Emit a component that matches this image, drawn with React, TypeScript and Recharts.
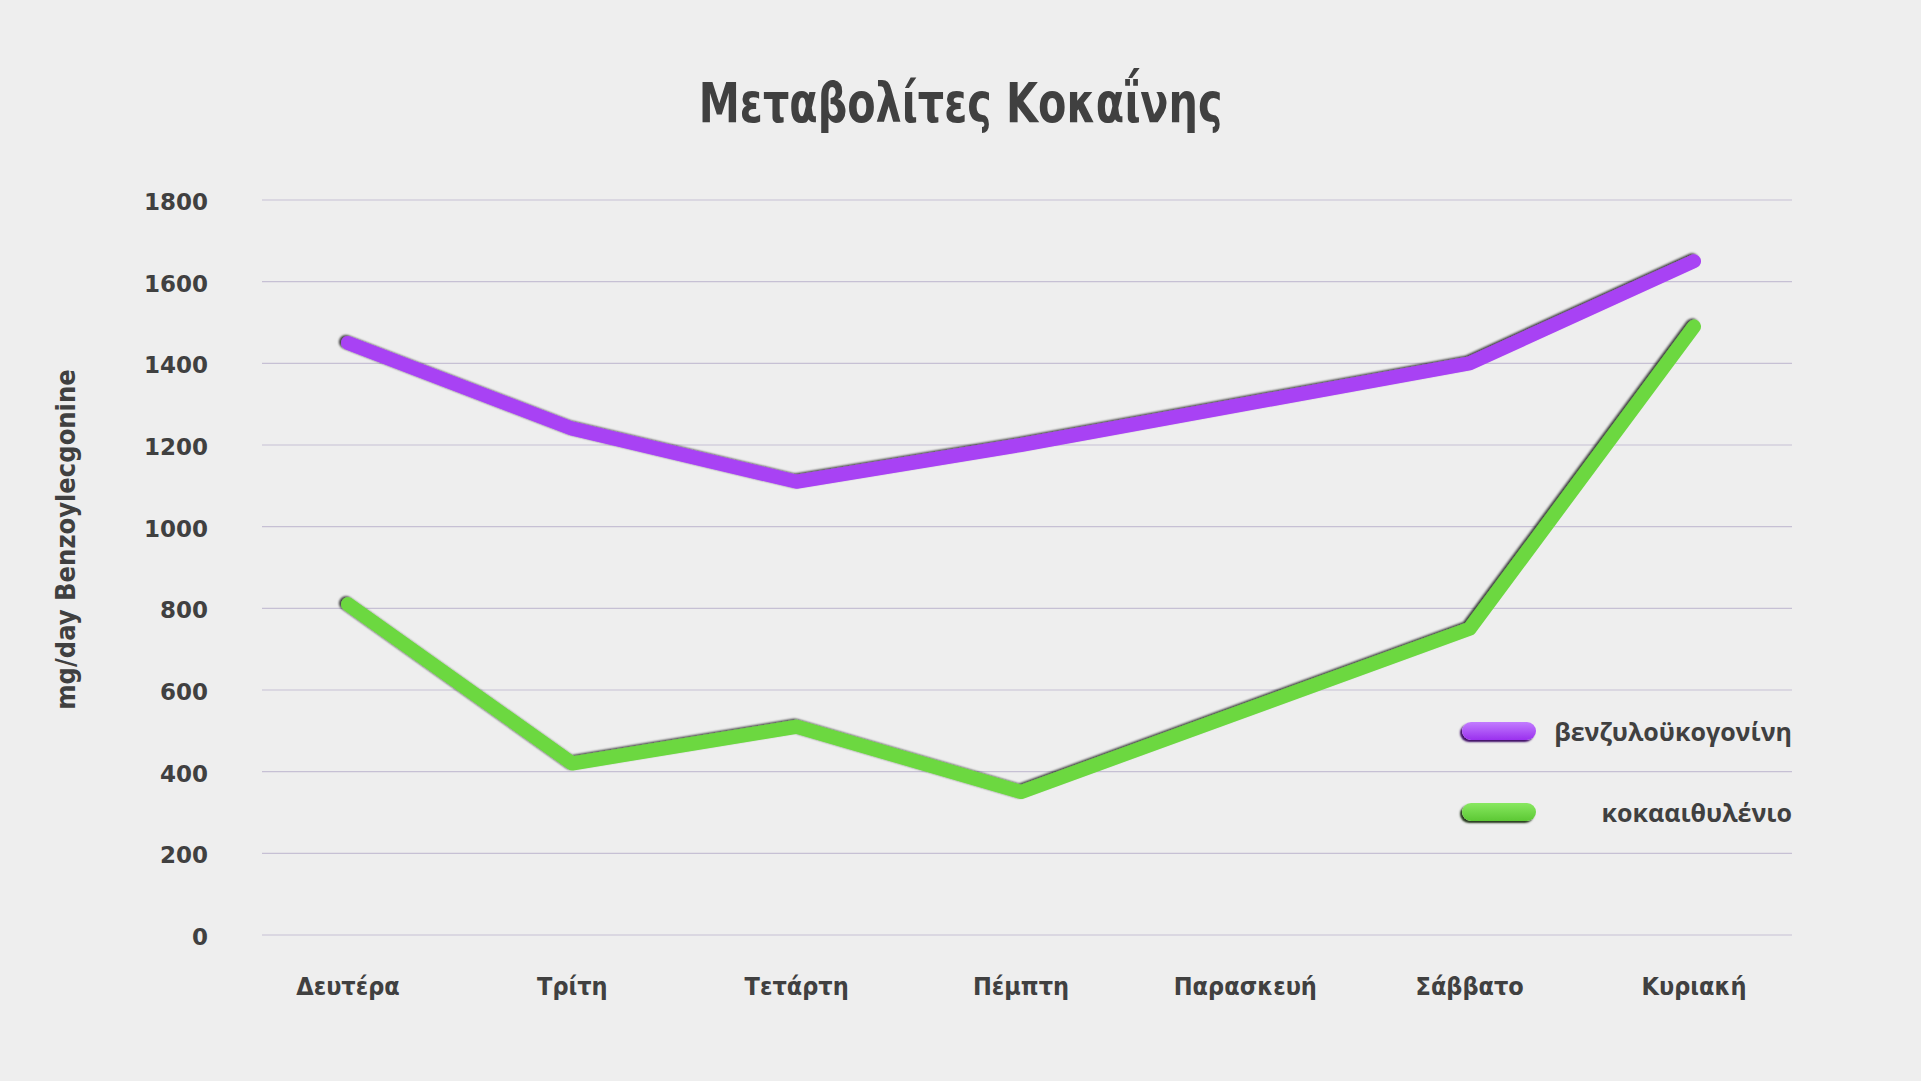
import React from 'react';
import { LineChart, Line, XAxis, YAxis, CartesianGrid } from 'recharts';

const days = ['Δευτέρα', 'Τρίτη', 'Τετάρτη', 'Πέμπτη', 'Παρασκευή', 'Σάββατο', 'Κυριακή'];
const benzoylecgonine = [1450, 1240, 1110, 1200, 1300, 1400, 1650];
const cocaethylene = [810, 420, 510, 350, 550, 750, 1490];
const yTicks = [0, 200, 400, 600, 800, 1000, 1200, 1400, 1600, 1800];
const seriesNames = ['βενζυλοϋκογονίνη', 'κοκααιθυλένιο'];
const titleText = 'Μεταβολίτες Κοκαΐνης';
const yAxisTitle = 'mg/day Benzoylecgonine';

const data = days.map((d, i) => ({ day: d, benz: benzoylecgonine[i], coca: cocaethylene[i] }));

const PURPLE = '#a842f4';
const PURPLE_DARK = '#3e0a66';
const GREEN = '#6cd840';
const GREEN_DARK = '#24381a';
const TEXT = '#404040';
const CONDENSED = '"DejaVu Sans Condensed", "Liberation Sans Narrow", sans-serif';

const LegendBox = () => {
  const items = [
    { name: seriesNames[0], c1: '#c27cff', c2: '#9a30ee', dark: PURPLE_DARK },
    { name: seriesNames[1], c1: '#88e860', c2: '#5cc834', dark: GREEN_DARK },
  ];
  return (
    <div style={{ position: 'absolute', left: 1462, top: 711, width: 330 }}>
      {items.map((it, i) => (
        <div key={it.name} style={{ display: 'flex', alignItems: 'center', height: 40, marginBottom: i === 0 ? 41 : 0 }}>
          <div
            style={{
              width: 74,
              height: 18,
              borderRadius: 9,
              background: `linear-gradient(to bottom, ${it.c1}, ${it.c2})`,
              boxShadow: `-2px 2px 2px ${it.dark}`,
              flex: '0 0 auto',
            }}
          />
          <div
            style={{
              flex: 1,
              textAlign: 'right',
              fontFamily: '"Open Sans", sans-serif',
              fontWeight: 700,
              fontSize: 25,
              color: TEXT,
            }}
          >
            {it.name}
          </div>
        </div>
      ))}
    </div>
  );
};

export default function App() {
  return (
    <div style={{ position: 'absolute', left: 0, top: 0, width: 1921, height: 1081, background: '#eeeeee', overflow: 'hidden' }}>
      <div
        style={{
          position: 'absolute',
          left: 0,
          top: 76,
          width: 1921,
          textAlign: 'center',
          transform: 'scaleX(0.835)',
          transformOrigin: '961px 0',
          fontFamily: CONDENSED,
          fontWeight: 700,
          fontSize: 55,
          lineHeight: '55px',
          color: TEXT,
        }}
      >
        {titleText}
      </div>
      <LineChart width={1921} height={1081} data={data} margin={{ top: 200, right: 129, bottom: 86, left: 162 }}>
        <defs>
          <filter id="bevel" x="-5%" y="-20%" width="110%" height="140%">
            <feOffset in="SourceAlpha" dx="-2.5" dy="-1.5" result="off" />
            <feGaussianBlur in="off" stdDeviation="1" result="blur" />
            <feFlood floodColor="#000000" floodOpacity="0.75" result="flood" />
            <feComposite in="flood" in2="blur" operator="in" result="shadow" />
            <feMerge>
              <feMergeNode in="shadow" />
              <feMergeNode in="SourceGraphic" />
            </feMerge>
          </filter>
        </defs>
        <CartesianGrid vertical={false} stroke="#c6c0d4" strokeWidth={1.2} />
        <XAxis
          dataKey="day"
          axisLine={false}
          tickLine={false}
          tickSize={0}
          tickMargin={42}
          height={60}
          interval={0}
          padding={{ left: 86, right: 98 }}
          tick={{ fill: TEXT, fontSize: 25, fontFamily: CONDENSED, fontWeight: 700 }}
        />
        <YAxis
          width={100}
          domain={[0, 1800]}
          ticks={yTicks}
          axisLine={false}
          tickLine={false}
          tickSize={0}
          tickMargin={54}
          tick={{ fill: TEXT, fontSize: 23, fontFamily: '"DejaVu Sans", sans-serif', fontWeight: 700, dy: 2 }}
          label={{
            content: (props: any) => {
              const vb = props.viewBox || { x: 162, y: 200, width: 100, height: 735 };
              const cx = vb.x - 97;
              const cy = vb.y + vb.height / 2 - 28;
              return (
                <text
                  x={cx}
                  y={cy}
                  transform={`rotate(-90, ${cx}, ${cy})`}
                  textAnchor="middle"
                  dominantBaseline="central"
                  fill={TEXT}
                  fontSize={27}
                  fontWeight={700}
                  fontFamily={CONDENSED}
                >
                  {yAxisTitle}
                </text>
              );
            },
          }}
        />
        <Line
          type="linear"
          dataKey="benz"
          name={seriesNames[0]}
          stroke={PURPLE}
          strokeWidth={14}
          strokeLinecap="round"
          strokeLinejoin="round"
          dot={false}
          activeDot={false}
          filter="url(#bevel)"
          isAnimationActive={false}
        />
        <Line
          type="linear"
          dataKey="coca"
          name={seriesNames[1]}
          stroke={GREEN}
          strokeWidth={14}
          strokeLinecap="round"
          strokeLinejoin="round"
          dot={false}
          activeDot={false}
          filter="url(#bevel)"
          isAnimationActive={false}
        />
      </LineChart>
      <LegendBox />
    </div>
  );
}
